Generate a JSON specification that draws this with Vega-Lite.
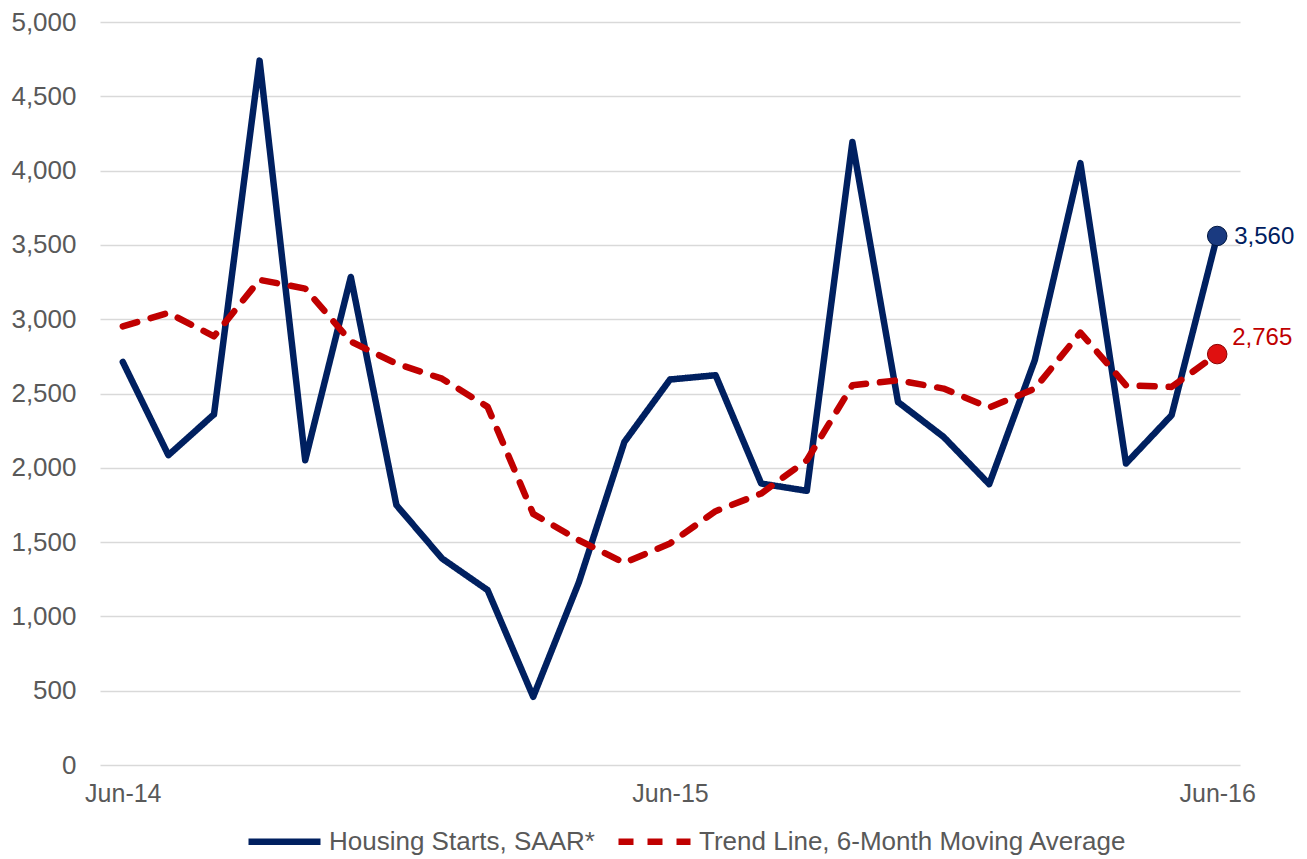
{
  "$schema": "https://vega.github.io/schema/vega-lite/v6.json",
  "autosize": "none",
  "width": 1140,
  "height": 743,
  "padding": {"left": 100, "top": 22, "right": 67, "bottom": 94},
  "background": "white",
  "config": {
    "view": {"stroke": null},
    "font": "Liberation Sans",
    "axis": {"labelFont": "Liberation Sans", "labelColor": "#595959"}
  },
  "data": {
    "values": [
      {"month": "Jun-14", "series": "Housing Starts, SAAR*", "value": 2712},
      {"month": "Jul-14", "series": "Housing Starts, SAAR*", "value": 2085},
      {"month": "Aug-14", "series": "Housing Starts, SAAR*", "value": 2360},
      {"month": "Sep-14", "series": "Housing Starts, SAAR*", "value": 4740},
      {"month": "Oct-14", "series": "Housing Starts, SAAR*", "value": 2051},
      {"month": "Nov-14", "series": "Housing Starts, SAAR*", "value": 3284},
      {"month": "Dec-14", "series": "Housing Starts, SAAR*", "value": 1749},
      {"month": "Jan-15", "series": "Housing Starts, SAAR*", "value": 1390},
      {"month": "Feb-15", "series": "Housing Starts, SAAR*", "value": 1177},
      {"month": "Mar-15", "series": "Housing Starts, SAAR*", "value": 459},
      {"month": "Apr-15", "series": "Housing Starts, SAAR*", "value": 1228},
      {"month": "May-15", "series": "Housing Starts, SAAR*", "value": 2174},
      {"month": "Jun-15", "series": "Housing Starts, SAAR*", "value": 2594},
      {"month": "Jul-15", "series": "Housing Starts, SAAR*", "value": 2623},
      {"month": "Aug-15", "series": "Housing Starts, SAAR*", "value": 1894},
      {"month": "Sep-15", "series": "Housing Starts, SAAR*", "value": 1845},
      {"month": "Oct-15", "series": "Housing Starts, SAAR*", "value": 4192},
      {"month": "Nov-15", "series": "Housing Starts, SAAR*", "value": 2443},
      {"month": "Dec-15", "series": "Housing Starts, SAAR*", "value": 2208},
      {"month": "Jan-16", "series": "Housing Starts, SAAR*", "value": 1890},
      {"month": "Feb-16", "series": "Housing Starts, SAAR*", "value": 2724},
      {"month": "Mar-16", "series": "Housing Starts, SAAR*", "value": 4050},
      {"month": "Apr-16", "series": "Housing Starts, SAAR*", "value": 2029},
      {"month": "May-16", "series": "Housing Starts, SAAR*", "value": 2354},
      {"month": "Jun-16", "series": "Housing Starts, SAAR*", "value": 3560},
      {"month": "Jun-14", "series": "Trend Line, 6-Month Moving Average", "value": 2952},
      {"month": "Jul-14", "series": "Trend Line, 6-Month Moving Average", "value": 3042},
      {"month": "Aug-14", "series": "Trend Line, 6-Month Moving Average", "value": 2885},
      {"month": "Sep-14", "series": "Trend Line, 6-Month Moving Average", "value": 3265},
      {"month": "Oct-14", "series": "Trend Line, 6-Month Moving Average", "value": 3206},
      {"month": "Nov-14", "series": "Trend Line, 6-Month Moving Average", "value": 2850},
      {"month": "Dec-14", "series": "Trend Line, 6-Month Moving Average", "value": 2701},
      {"month": "Jan-15", "series": "Trend Line, 6-Month Moving Average", "value": 2600},
      {"month": "Feb-15", "series": "Trend Line, 6-Month Moving Average", "value": 2410},
      {"month": "Mar-15", "series": "Trend Line, 6-Month Moving Average", "value": 1690},
      {"month": "Apr-15", "series": "Trend Line, 6-Month Moving Average", "value": 1513},
      {"month": "May-15", "series": "Trend Line, 6-Month Moving Average", "value": 1360},
      {"month": "Jun-15", "series": "Trend Line, 6-Month Moving Average", "value": 1491},
      {"month": "Jul-15", "series": "Trend Line, 6-Month Moving Average", "value": 1708},
      {"month": "Aug-15", "series": "Trend Line, 6-Month Moving Average", "value": 1827},
      {"month": "Sep-15", "series": "Trend Line, 6-Month Moving Average", "value": 2051},
      {"month": "Oct-15", "series": "Trend Line, 6-Month Moving Average", "value": 2555},
      {"month": "Nov-15", "series": "Trend Line, 6-Month Moving Average", "value": 2589},
      {"month": "Dec-15", "series": "Trend Line, 6-Month Moving Average", "value": 2533},
      {"month": "Jan-16", "series": "Trend Line, 6-Month Moving Average", "value": 2405},
      {"month": "Feb-16", "series": "Trend Line, 6-Month Moving Average", "value": 2533},
      {"month": "Mar-16", "series": "Trend Line, 6-Month Moving Average", "value": 2910},
      {"month": "Apr-16", "series": "Trend Line, 6-Month Moving Average", "value": 2555},
      {"month": "May-16", "series": "Trend Line, 6-Month Moving Average", "value": 2544},
      {"month": "Jun-16", "series": "Trend Line, 6-Month Moving Average", "value": 2765}
    ]
  },
  "encoding": {
    "x": {
      "field": "month",
      "type": "ordinal",
      "scale": {
        "type": "point",
        "padding": 0.5,
        "domain": ["Jun-14","Jul-14","Aug-14","Sep-14","Oct-14","Nov-14","Dec-14","Jan-15","Feb-15","Mar-15","Apr-15","May-15","Jun-15","Jul-15","Aug-15","Sep-15","Oct-15","Nov-15","Dec-15","Jan-16","Feb-16","Mar-16","Apr-16","May-16","Jun-16"]
      },
      "axis": {
        "title": null,
        "labelAngle": 0,
        "labelExpr": "slice(datum.label,0,3)=='Jun' ? datum.label : ''",
        "labelFontSize": 25,
        "labelPadding": 16,
        "ticks": false,
        "domain": false,
        "grid": false
      }
    },
    "y": {
      "field": "value",
      "type": "quantitative",
      "scale": {"domain": [0, 5000]},
      "axis": {
        "title": null,
        "values": [0,500,1000,1500,2000,2500,3000,3500,4000,4500,5000],
        "format": ",.0f",
        "labelFontSize": 26,
        "labelPadding": 24,
        "ticks": false,
        "domain": false,
        "gridColor": "#d9d9d9",
        "gridWidth": 1.5
      }
    }
  },
  "layer": [
    {
      "mark": {"type": "line", "strokeWidth": 6.5, "strokeCap": "round", "strokeJoin": "round"},
      "encoding": {
        "color": {
          "field": "series",
          "type": "nominal",
          "scale": {"domain": ["Housing Starts, SAAR*", "Trend Line, 6-Month Moving Average"], "range": ["#002060", "#C00000"]},
          "legend": {
            "title": null,
            "orient": "none",
            "direction": "horizontal",
            "legendX": 145,
            "legendY": 780,
            "symbolType": "stroke",
            "symbolSize": 5184,
            "symbolStrokeWidth": 6.5,
            "labelFontSize": 26,
            "labelFont": "Liberation Sans",
            "labelColor": "#595959",
            "labelOffset": 5,
            "labelLimit": 800,
            "columnPadding": 10
          }
        },
        "strokeDash": {
          "field": "series",
          "type": "nominal",
          "scale": {"domain": ["Housing Starts, SAAR*", "Trend Line, 6-Month Moving Average"], "range": [[1, 0], [15, 14]]},
          "legend": {
            "title": null,
            "orient": "none",
            "direction": "horizontal",
            "legendX": 145,
            "legendY": 780,
            "symbolType": "stroke",
            "symbolSize": 5184,
            "symbolStrokeWidth": 6.5,
            "labelFontSize": 26,
            "labelFont": "Liberation Sans",
            "labelColor": "#595959",
            "labelOffset": 5,
            "labelLimit": 800,
            "columnPadding": 10
          }
        }
      }
    },
    {
      "transform": [{"filter": "datum.month == 'Jun-16'"}],
      "mark": {"type": "point", "filled": true, "size": 380, "opacity": 1, "strokeWidth": 1},
      "encoding": {
        "fill": {"field": "series", "type": "nominal", "scale": {"domain": ["Housing Starts, SAAR*", "Trend Line, 6-Month Moving Average"], "range": ["#1a3a80", "#e01010"]}, "legend": null},
        "stroke": {"field": "series", "type": "nominal", "scale": {"domain": ["Housing Starts, SAAR*", "Trend Line, 6-Month Moving Average"], "range": ["#001640", "#8a0000"]}, "legend": null}
      }
    },
    {
      "transform": [{"filter": "datum.month == 'Jun-16' && datum.series == 'Housing Starts, SAAR*'"}],
      "mark": {"type": "text", "align": "left", "baseline": "middle", "dx": 17, "dy": 1, "fontSize": 24, "font": "Liberation Sans", "color": "#002060"},
      "encoding": {"text": {"field": "value", "type": "quantitative", "format": ","}}
    },
    {
      "transform": [{"filter": "datum.month == 'Jun-16' && datum.series == 'Trend Line, 6-Month Moving Average'"}],
      "mark": {"type": "text", "align": "left", "baseline": "middle", "dx": 15, "dy": -16, "fontSize": 24, "font": "Liberation Sans", "color": "#C00000"},
      "encoding": {"text": {"field": "value", "type": "quantitative", "format": ","}}
    }
  ]
}
